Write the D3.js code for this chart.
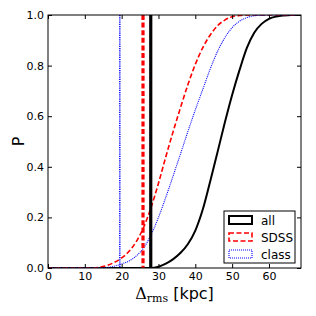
<!DOCTYPE html>
<html>
<head>
<meta charset="utf-8">
<script src="https://cdn.jsdelivr.net/npm/d3@7"></script>
<style>
  body { margin: 0; background: #fff; }
  text { font-family: "DejaVu Sans", sans-serif; }
</style>
</head>
<body>
<svg id="chart" width="316" height="316"></svg>
<script>
// cumulative distributions
var allX = [0, 27.9, 30, 32, 34, 36, 38, 40, 42, 44, 46, 48, 50, 52, 54, 56, 58, 60, 62, 64, 66, 68.7];
var allP = [0, 0, 0.005, 0.017, 0.035, 0.06, 0.095, 0.148, 0.23, 0.34, 0.456, 0.574, 0.684, 0.782, 0.87, 0.93, 0.965, 0.985, 0.994, 0.998, 1, 1];

var sdssX = [0, 12, 14, 16, 18, 20, 22, 24, 26, 28, 30, 32, 34, 36, 38, 40, 42, 44, 46, 48, 50, 52, 54, 68.7];
var sdssP = [0, 0, 0.003, 0.01, 0.022, 0.04, 0.066, 0.105, 0.162, 0.24, 0.335, 0.44, 0.54, 0.635, 0.725, 0.805, 0.87, 0.92, 0.957, 0.98, 0.993, 0.998, 1, 1];

var classX = [0, 14, 16, 18, 20, 22, 24, 26, 28, 30, 32, 34, 36, 38, 40, 42, 44, 46, 48, 50, 52, 54, 56, 58, 60, 68.7];
var classP = [0, 0, 0.002, 0.007, 0.016, 0.028, 0.048, 0.08, 0.132, 0.2, 0.28, 0.365, 0.452, 0.54, 0.625, 0.705, 0.785, 0.855, 0.91, 0.95, 0.975, 0.99, 0.997, 0.999, 1, 1];

// vertical marker lines
var markerX = { all: 27.9, sdss: 25.8, cls: 19.5 };

var xTicks = [0, 10, 20, 30, 40, 50, 60];
var yTicks = [0, 0.2, 0.4, 0.6, 0.8, 1.0];
var legendLabels = ["all", "SDSS", "class"];

let chart = d3.select("#chart"),
    margin = { top: 15, right: 15, bottom: 48, left: 48 },
    width = +chart.attr("width") - margin.left - margin.right,
    height = +chart.attr("height") - margin.top - margin.bottom;

let x = d3.scaleLinear().domain([0, 68.7]).range([0, width]);
let y = d3.scaleLinear().domain([0, 1]).range([height, 0]);

let g = chart.append("g")
    .attr("transform", "translate(" + margin.left + "," + margin.top + ")");

chart.append("defs").append("clipPath").attr("id", "clip")
    .append("rect").attr("width", width).attr("height", height);

let plot = g.append("g").attr("clip-path", "url(#clip)");

function series(xs, ps) {
    return xs.map((v, i) => ({ x: v, p: ps[i] }));
}

let line = d3.line()
    .x(d => x(d.x))
    .y(d => y(d.p))
    .curve(d3.curveMonotoneX);

let styles = [
    { data: series(allX, allP), color: "black", w: 2, dash: null, vx: markerX.all, vw: 3.2, vdash: null },
    { data: series(sdssX, sdssP), color: "red", w: 1.6, dash: "5,2.5", vx: markerX.sdss, vw: 3.2, vdash: "5,2.6" },
    { data: series(classX, classP), color: "blue", w: 1.1, dash: "1,1", vx: markerX.cls, vw: 1.5, vdash: "1.2,1" }
];

styles.forEach(s => {
    plot.append("path")
        .datum(s.data)
        .attr("d", line)
        .style("fill", "none")
        .style("stroke", s.color)
        .style("stroke-width", s.w)
        .style("stroke-dasharray", s.dash);
});

styles.forEach(s => {
    plot.append("line")
        .attr("x1", x(s.vx)).attr("x2", x(s.vx))
        .attr("y1", 0).attr("y2", height)
        .style("stroke", s.color)
        .style("stroke-width", s.vw)
        .style("stroke-dasharray", s.vdash);
});

// axes, matplotlib style: inward ticks on every side
let xAxis = d3.axisBottom(x).tickValues(xTicks).tickSizeInner(-4).tickSizeOuter(0).tickPadding(4).tickFormat(d3.format("d"));
let yAxis = d3.axisLeft(y).tickValues(yTicks).tickSizeInner(-4).tickSizeOuter(0).tickPadding(4).tickFormat(d3.format(".1f"));

let gx = g.append("g").attr("transform", "translate(0," + height + ")").call(xAxis);
let gy = g.append("g").call(yAxis);
g.append("g").call(d3.axisTop(x).tickValues(xTicks).tickSizeInner(-4).tickSizeOuter(0).tickFormat(""));
g.append("g").attr("transform", "translate(" + width + ",0)")
    .call(d3.axisRight(y).tickValues(yTicks).tickSizeInner(-4).tickSizeOuter(0).tickFormat(""));

g.selectAll(".domain").remove();
g.selectAll(".tick line").style("stroke", "black");
[gx, gy].forEach(a => a.selectAll(".tick text")
    .style("font-size", "11px").style("fill", "black"));

g.append("rect")
    .attr("width", width).attr("height", height)
    .style("fill", "none").style("stroke", "black").style("stroke-width", 1);

// axis labels
chart.append("text")
    .attr("transform", "translate(24," + (margin.top + height / 2) + ") rotate(-90)")
    .attr("text-anchor", "middle")
    .style("font-size", "16px")
    .text("P");

let xl = chart.append("text")
    .attr("x", margin.left + width / 2)
    .attr("y", 299)
    .attr("text-anchor", "middle")
    .style("font-size", "16px");
xl.append("tspan").style("font-family", "'DejaVu Serif', serif").text("\u0394");
xl.append("tspan").style("font-family", "'DejaVu Serif', serif").style("font-size", "11px")
    .attr("dy", 3).text("rms");
xl.append("tspan").attr("dy", -3).text(" [kpc]");

// legend
let lg = g.append("g").attr("transform", "translate(176,196)");
lg.append("rect")
    .attr("width", 71).attr("height", 52)
    .style("fill", "white").style("stroke", "black").style("stroke-width", 1);

styles.forEach((s, i) => {
    let row = lg.append("g").attr("transform", "translate(0," + (9 + i * 17) + ")");
    row.append("rect")
        .attr("x", 5).attr("y", -4)
        .attr("width", 23).attr("height", 8)
        .style("fill", "none")
        .style("stroke", s.color)
        .style("stroke-width", s.w)
        .style("stroke-dasharray", s.dash);
    row.append("text")
        .attr("x", 37).attr("y", 4.5)
        .style("font-size", "12px")
        .text(legendLabels[i]);
});
</script>
</body>
</html>
